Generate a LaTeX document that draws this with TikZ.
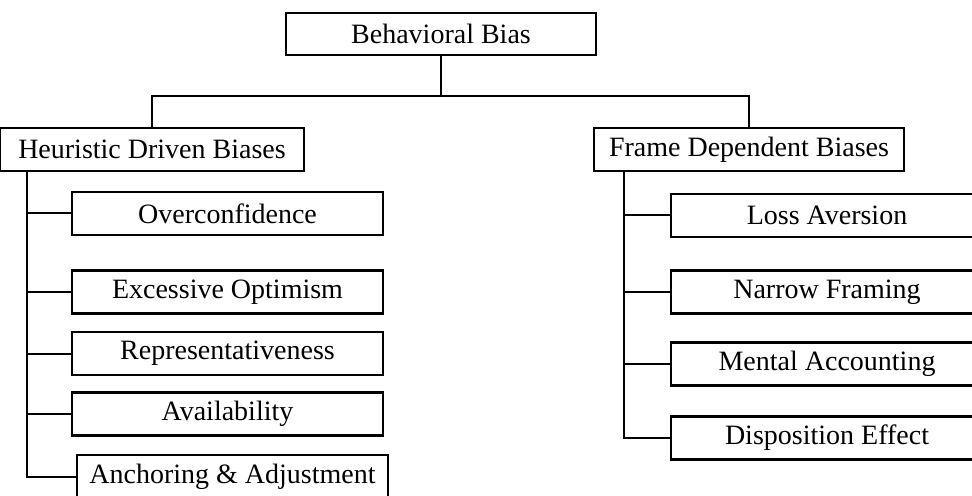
\documentclass[tikz,border=0pt]{standalone}
\usepackage{fontspec}
\setmainfont{Liberation Serif}
\begin{document}
\begin{tikzpicture}[x=0.5pt,y=-0.5pt,
  box/.style={draw, line width=1.1pt, inner sep=0pt, font=\fontsize{14}{16}\selectfont},
  topbox/.style={box, minimum width=155pt, minimum height=21pt},
  lbox/.style={box, minimum width=155.5pt, minimum height=21.5pt},
  rbox/.style={box, minimum width=156pt, minimum height=21.5pt},
  conn/.style={line width=1pt}]
\clip (0,0) rectangle (972,496);
\fill[white] (0,0) rectangle (972,496);
\node[topbox] (bb) at (441,34) {Behavioral Bias};
\node[box, minimum width=152pt, minimum height=21.5pt] (hd) at (152,149.5) {Heuristic Driven Biases};
\node[topbox, minimum height=21.5pt] (fd) at (749,149.5) {Frame Dependent Biases};
% left children
\node[lbox] (oc) at (227.5,213.5) {Overconfidence};
\node[lbox] (eo) at (227.5,292) {Excessive Optimism};
\node[lbox] (rp) at (227.5,353.5) {Representativeness};
\node[lbox] (av) at (227.5,414) {Availability};
\node[lbox, minimum height=22pt] (an) at (232.5,477) {Anchoring \& Adjustment};
% right children
\node[rbox] (la) at (827,215.5) {Loss Aversion};
\node[rbox] (nf) at (827,292) {Narrow Framing};
\node[rbox] (ma) at (827,364) {Mental Accounting};
\node[rbox] (de) at (827,438) {Disposition Effect};
% connectors
\coordinate (bar) at (441,96);
\draw[conn] (bb.south) -- (bar);
\draw[conn] (hd.north) |- (bar) -| (fd.north);
\coordinate (lv) at (27,171);
\coordinate (rv) at (624,171);
\draw[conn] (lv) |- (an.west);
\foreach \n in {oc,eo,rp,av} \draw[conn] (lv |- \n.west) -- (\n.west);
\draw[conn] (rv) |- (de.west);
\foreach \n in {la,nf,ma} \draw[conn] (rv |- \n.west) -- (\n.west);
\end{tikzpicture}
\end{document}
